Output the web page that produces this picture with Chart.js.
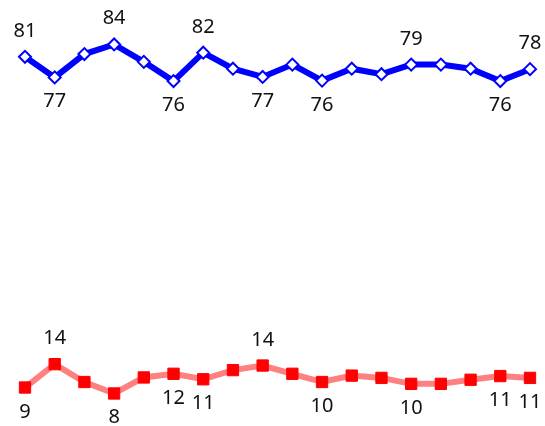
<!DOCTYPE html>
<html>
<head>
<meta charset="utf-8">
<script src="https://cdn.jsdelivr.net/npm/chart.js@4/dist/chart.umd.min.js"></script>
<style>
  body { margin: 0; background: #fff; }
  canvas { display: block; }
</style>
</head>
<body>
<canvas id="myChart" width="545" height="426"></canvas>
<script>
const categories = ['1','2','3','4','5','6','7','8','9','10','11','12','13','14','15','16','17','18'];
const blueValues = [81.1, 76.6, 81.7, 83.8, 80.0, 75.8, 82.0, 78.5, 76.7, 79.4, 75.9, 78.5, 77.3, 79.4, 79.4, 78.5, 75.8, 78.4];
const redValues = [8.9, 14.0, 10.1, 7.6, 11.1, 11.9, 10.7, 12.7, 13.7, 11.9, 10.1, 11.5, 11.0, 9.7, 9.7, 10.6, 11.4, 11.0];

// which points carry a value label, and on which side
const blueLabelled = [0, 1, 3, 5, 6, 8, 10, 13, 16, 17];
const blueLabelSide = ['up','down','up','down','up','down','down','up','down','up'];
const redLabelled = [0, 1, 3, 5, 6, 8, 10, 13, 16, 17];
const redLabelSide = ['down','up','down','down','down','up','down','down','down','down'];

const valueLabels = {
    id: 'valueLabels',
    afterDatasetsDraw(chart) {
        const ctx = chart.ctx;
        ctx.save();
        ctx.font = '20px "Noto Sans"';
        ctx.fillStyle = '#111';
        ctx.textAlign = 'center';
        ctx.textBaseline = 'alphabetic';
        chart.data.datasets.forEach((ds, di) => {
            const meta = chart.getDatasetMeta(di);
            ds.labelIdx.forEach((idx, k) => {
                const pt = meta.data[idx];
                const text = String(Math.round(ds.data[idx]));
                const y = ds.labelSide[k] === 'up' ? pt.y - 20 : pt.y + 30;
                ctx.fillText(text, pt.x, y);
            });
        });
        ctx.restore();
    }
};

const ctx = document.getElementById('myChart').getContext('2d');
const myChart = new Chart(ctx, {
    type: 'line',
    data: {
        labels: categories,
        datasets: [{
            data: blueValues,
            labelIdx: blueLabelled,
            labelSide: blueLabelSide,
            borderColor: '#0000ff',
            borderWidth: 6,
            pointStyle: 'rectRot',
            pointRadius: 6,
            pointBorderWidth: 2,
            pointBackgroundColor: '#ffffff',
            pointBorderColor: '#0000ff',
            tension: 0,
            clip: false
        }, {
            data: redValues,
            labelIdx: redLabelled,
            labelSide: redLabelSide,
            borderColor: '#ff8080',
            borderWidth: 6,
            pointStyle: 'rect',
            pointRadius: 8,
            pointBorderWidth: 1,
            pointBackgroundColor: '#ff0000',
            pointBorderColor: '#ff0000',
            tension: 0,
            clip: false
        }]
    },
    options: {
        responsive: false,
        animation: false,
        layout: { autoPadding: false, padding: { left: 25, right: 15, top: 0, bottom: 0 } },
        plugins: { legend: { display: false }, tooltip: { enabled: false } },
        scales: {
            x: { display: false },
            y: { display: false, min: 0.5, max: 93.5 }
        }
    },
    plugins: [valueLabels]
});
</script>
</body>
</html>
